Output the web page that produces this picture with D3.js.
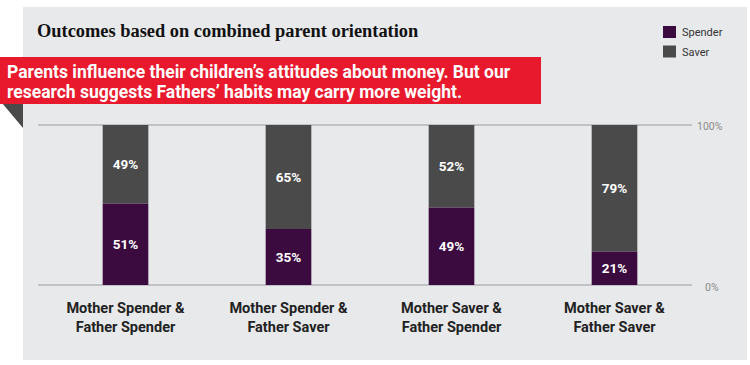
<!DOCTYPE html>
<html><head><meta charset="utf-8">
<script src="https://cdn.jsdelivr.net/npm/d3@7"></script>
<style>
body{margin:0;background:#fff;}
svg{display:block;}
</style></head>
<body>
<svg id="chart" width="750" height="365"></svg>
<script>
const categories = [["Mother Spender &","Father Spender"],["Mother Spender &","Father Saver"],["Mother Saver &","Father Spender"],["Mother Saver &","Father Saver"]];
const spender = [51, 35, 49, 21];
const saver = [49, 65, 52, 79];
const seriesNames = ["Spender", "Saver"];
const seriesColors = ["#3b0a3f", "#4a4a4b"];
const yTicks = [0, 100];
const title = "Outcomes based on combined parent orientation";
const banner = ["Parents influence their children\u2019s attitudes about money. But our","research suggests Fathers\u2019 habits may carry more weight."];

const svg = d3.select("#chart");
const condensed = "'Liberation Sans Narrow','Roboto','Open Sans',sans-serif";

// panel
svg.append("rect").attr("x",23).attr("y",7).attr("width",724).attr("height",353).attr("fill","#e8e9eb");

// title
svg.append("text").attr("x",37).attr("y",37).text(title)
  .attr("font-family","'Liberation Serif','DejaVu Serif',serif").attr("font-weight","bold")
  .attr("font-size",18.4).attr("fill","#111");

// legend
const leg = svg.append("g");
seriesNames.forEach((n,i)=>{
  const g = leg.append("g").attr("transform",`translate(663,${26+i*19.5})`);
  g.append("rect").attr("width",13).attr("height",12).attr("fill",seriesColors[i]);
  g.append("text").attr("x",19).attr("y",10).text(n).attr("font-family",condensed)
   .attr("font-size",11).attr("fill","#333");
});

// scales
const data = categories.map((c,i)=>({cat:i, Spender:spender[i], Saver:saver[i]}));
const x = d3.scaleBand().domain(d3.range(categories.length)).range([44,696]).paddingInner(0.72).paddingOuter(0.36);
const y = d3.scaleLinear().domain([0,100]).range([285,125]);
const stack = d3.stack().keys(seriesNames).offset(d3.stackOffsetExpand);
const stacked = stack(data);

// gridlines
const axis = d3.axisRight(y).tickValues(yTicks).tickFormat(d=>d+"%").tickSize(0);
svg.append("g").selectAll("line").data(yTicks).join("line")
  .attr("x1",38).attr("x2",692).attr("y1",d=>y(d)).attr("y2",d=>y(d))
  .attr("stroke","#b4b5b8").attr("stroke-width",1.5);
const ax = svg.append("g").attr("transform","translate(696,0)").call(axis);
ax.select(".domain").remove();
ax.selectAll("text").attr("font-family",condensed).attr("font-size",10.5).attr("fill","#8a8a8a")
  .attr("x",d=> d===0 ? 9 : 1).attr("dy","0.35em").attr("text-anchor","start");
ax.selectAll("g.tick").attr("transform",d=>`translate(0,${y(d)+ (d===0?2:1)})`);

// bars
stacked.forEach((s,si)=>{
  const g = svg.append("g");
  g.selectAll("rect").data(s).join("rect")
    .attr("x",(d,i)=>x(i)).attr("width",x.bandwidth())
    .attr("y",d=>y(d[1]*100)).attr("height",d=>y(d[0]*100)-y(d[1]*100))
    .attr("fill",seriesColors[si]);
  g.selectAll("text").data(s).join("text")
    .attr("x",(d,i)=>x(i)+x.bandwidth()/2)
    .attr("y",d=>(y(d[0]*100)+y(d[1]*100))/2).attr("dy","0.36em")
    .attr("text-anchor","middle").attr("font-family",condensed).attr("font-weight","bold")
    .attr("font-size",13.5).attr("fill","#fff")
    .text(d=>d.data[seriesNames[si]]+"%");
});

// category labels
const cl = svg.append("g");
categories.forEach((c,i)=>{
  c.forEach((line,j)=>{
    cl.append("text").attr("x",x(i)+x.bandwidth()/2).attr("y",313+j*18.5)
      .attr("text-anchor","middle").attr("font-family",condensed).attr("font-weight","bold")
      .attr("font-size",14.5).attr("fill","#222").text(line);
  });
});

// banner
svg.append("path").attr("d","M2,103 L23,103 L23,128 Z").attr("fill","#4a4a4b");
svg.append("rect").attr("x",0).attr("y",57).attr("width",541).attr("height",47).attr("fill","#e8192c");
banner.forEach((t,i)=>{
  svg.append("text").attr("x",7).attr("y",78+i*19.5).text(t)
    .attr("font-family",condensed).attr("font-weight","bold").attr("font-size",17.5).attr("fill","#fff");
});
</script>
</body></html>
